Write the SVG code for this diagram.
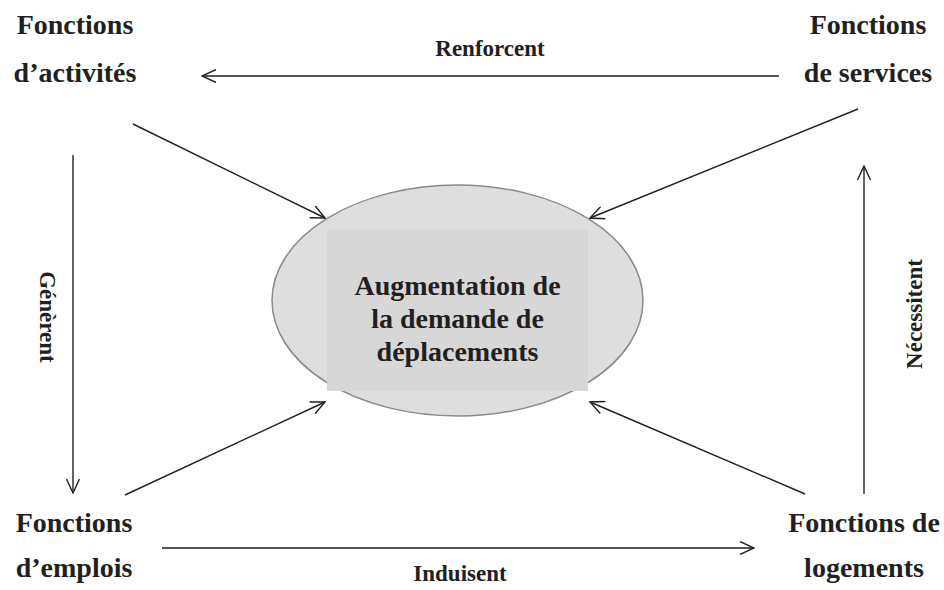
<svg xmlns="http://www.w3.org/2000/svg" width="944" height="590" viewBox="0 0 944 590">
<defs>
<style>
.lbl{font-family:"Liberation Serif","Times New Roman",serif;font-weight:bold;font-size:28px;fill:#231f20;text-anchor:middle}
.edge{font-family:"Liberation Serif","Times New Roman",serif;font-weight:bold;font-size:23px;fill:#231f20;text-anchor:middle}
.con{stroke:#231f20;stroke-width:1.4;fill:none;marker-end:url(#arr)}
</style>
<marker id="arr" viewBox="0 0 16 14" refX="15" refY="7" markerWidth="16" markerHeight="14" markerUnits="userSpaceOnUse" orient="auto">
<path d="M1,0.5 L15,7 L1,13.5" fill="none" stroke="#231f20" stroke-width="1.4"/>
</marker>
</defs>
<rect width="944" height="590" fill="#ffffff"/>
<g id="center">
<ellipse cx="457.5" cy="300.5" rx="185.5" ry="115.5" fill="#dedede" stroke="#8a8a8a" stroke-width="1.5"/>
<rect x="327" y="230" width="261" height="161" fill="#d7d7d7"/>
<text class="lbl" x="457.5" y="295">Augmentation de</text>
<text class="lbl" x="457.5" y="328">la demande de</text>
<text class="lbl" x="457.5" y="361">déplacements</text>
</g>
<g id="activites">
<text class="lbl" x="75" y="34">Fonctions</text>
<text class="lbl" x="75" y="82">d’activités</text>
</g>
<g id="services">
<text class="lbl" x="868" y="34">Fonctions</text>
<text class="lbl" x="868" y="82">de services</text>
</g>
<g id="emplois">
<text class="lbl" x="74" y="532">Fonctions</text>
<text class="lbl" x="74" y="577">d’emplois</text>
</g>
<g id="logements">
<text class="lbl" x="864" y="532">Fonctions de</text>
<text class="lbl" x="864" y="577">logements</text>
</g>
<g id="connectors">
<line class="con" x1="779" y1="76" x2="202" y2="76"/>
<line class="con" x1="73" y1="155" x2="73" y2="493"/>
<line class="con" x1="864" y1="494" x2="864" y2="166"/>
<line class="con" x1="162" y1="548" x2="754" y2="548"/>
<line class="con" x1="133" y1="124" x2="325" y2="218"/>
<line class="con" x1="858" y1="109" x2="590" y2="218"/>
<line class="con" x1="125" y1="495" x2="325" y2="402"/>
<line class="con" x1="805" y1="494" x2="590" y2="402"/>
<text class="edge" x="490" y="56">Renforcent</text>
<text class="edge" x="460" y="581">Induisent</text>
<text class="edge" transform="translate(40,317) rotate(90)">Génèrent</text>
<text class="edge" transform="translate(922,314) rotate(-90)">Nécessitent</text>
</g>
</svg>
